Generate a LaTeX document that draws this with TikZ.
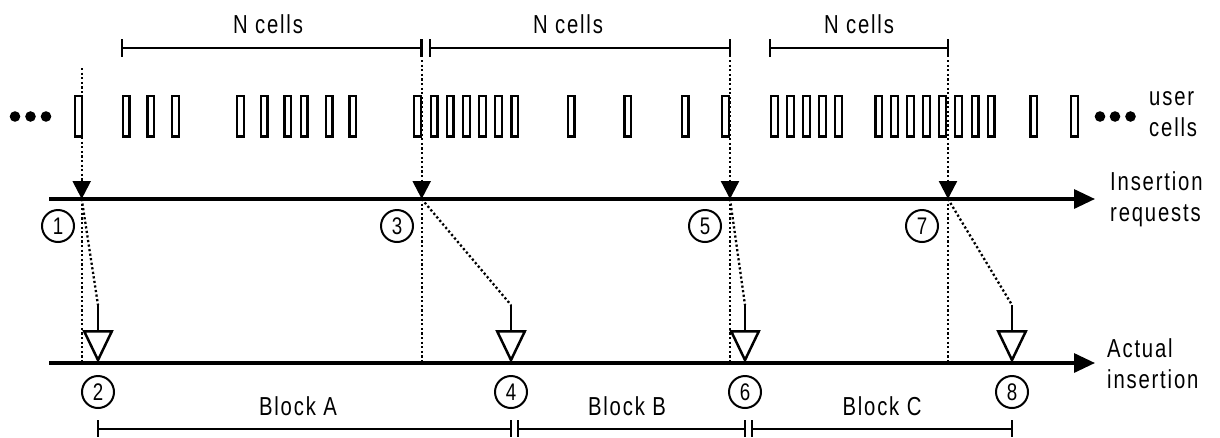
\documentclass[tikz,border=0pt]{standalone}
\usepackage{fontspec}
\setmainfont{Liberation Sans}
\newfontfamily\lab[FakeStretch=0.78,LetterSpace=7]{Liberation Sans}
\usetikzlibrary{arrows.meta}
\begin{document}
\begin{tikzpicture}[x=1pt,y=-1pt,
  cellbox/.style={line width=2.3pt},
  axisline/.style={line width=3.2pt,-{Triangle[length=21pt,width=19pt]}},
  bracketline/.style={line width=2.6pt},
  dotline/.style={line width=2.3pt,dash pattern=on 2.2pt off 2.4pt},
  reqtip/.style={-{Triangle[length=18pt,width=18pt]}},
  instip/.style={line width=2.5pt,-{Triangle[open,length=33pt,width=31pt]}},
  circnum/.style={circle,draw,line width=2pt,minimum size=32pt,inner sep=0pt,font=\lab\fontsize{24}{24}\selectfont},
  lbl/.style={font=\lab\fontsize{26}{31}\selectfont,align=left,inner sep=0pt},
]
\useasboundingbox (0,0) rectangle (1220,437);

% user cells
\foreach \L in {74,121.7,146.3,171,236,259.5,283.3,299.6,324.6,348.3,413,429.5,445.7,462,478,494,510.3,566.7,623.3,680.5,721,770,786,802,818,834,874.3,890,906,922,938,954,970.5,986.7,1029.3,1070}
  \draw[cellbox] (\L+1.15,96.15) rectangle (\L+7.85,136.35);

% ellipsis dots
\foreach \x in {15,30.5,46,1100,1115,1130.5}
  \fill (\x,116.5) circle (5.3pt);

% top brackets
\draw[bracketline] (122,39) -- (122,57) (122,48) -- (421.7,48) (421.7,39) -- (421.7,57);
\draw[bracketline] (430,39) -- (430,57) (430,48) -- (730,48) (730,39) -- (730,57);
\draw[bracketline] (770,39) -- (770,57) (770,48) -- (948,48) (948,39) -- (948,57);
\node[lbl,anchor=base] (nc1) at (268,33) {N cells};
\node[lbl,anchor=base] (nc2) at (568,33) {N cells};
\node[lbl,anchor=base] (nc3) at (859,33) {N cells};

% axes
\coordinate (ra) at (49,199);
\coordinate (rb) at (1095,199);
\coordinate (aa) at (49,363);
\coordinate (ab) at (1095,363);
\draw[axisline] (ra) -- (rb);
\draw[axisline] (aa) -- (ab);
\node[lbl,anchor=west] (ir) at (1110,199) {Insertion\\requests};
\node[lbl,anchor=west] (ai) at (1107,364) {Actual\\insertion};
\node[lbl,anchor=west] (uc) at (1149,114) {user\\cells};

% request points, stem tops, actual insertion points
\coordinate (t1) at (81.7,68);  \coordinate (r1) at (81.7,199);  \coordinate (s1) at (98,305);   \coordinate (a1) at (98,363);
\coordinate (t2) at (421.7,60); \coordinate (r2) at (421.7,199); \coordinate (s2) at (511,305);  \coordinate (a2) at (511,363);
\coordinate (t3) at (730,60);   \coordinate (r3) at (730,199);   \coordinate (s3) at (745,305);  \coordinate (a3) at (745,363);
\coordinate (t4) at (948,60);   \coordinate (r4) at (948,199);   \coordinate (s4) at (1012,305); \coordinate (a4) at (1012,363);

\foreach \i in {1,2,3,4}{
  \draw[dotline,reqtip] (t\i) -- (r\i);
  \draw[dotline] (r\i) -- (r\i |- a\i);
  \draw[dotline] (r\i) -- (s\i);
  \draw[instip] (s\i) -- (a\i);
}

% circled numbers
\node[circnum] (c1) at (58,226) {1};
\node[circnum] (c3) at (397,226) {3};
\node[circnum] (c5) at (705,226) {5};
\node[circnum] (c7) at (922,226) {7};
\node[circnum] (c2) at (98,392) {2};
\node[circnum] (c4) at (511,392) {4};
\node[circnum] (c6) at (745,392) {6};
\node[circnum] (c8) at (1012,392) {8};

% bottom brackets
\draw[bracketline] (98,420) -- (98,437) (98,429) -- (511,429) (511,420) -- (511,437);
\draw[bracketline] (518,420) -- (518,437) (518,429) -- (745,429) (745,420) -- (745,437);
\draw[bracketline] (752,420) -- (752,437) (752,429) -- (1012,429) (1012,420) -- (1012,437);
\node[lbl] (ba) at (298,406) {Block A};
\node[lbl] (bb) at (627,406) {Block B};
\node[lbl] (bc) at (882,406) {Block C};
\end{tikzpicture}
\end{document}
